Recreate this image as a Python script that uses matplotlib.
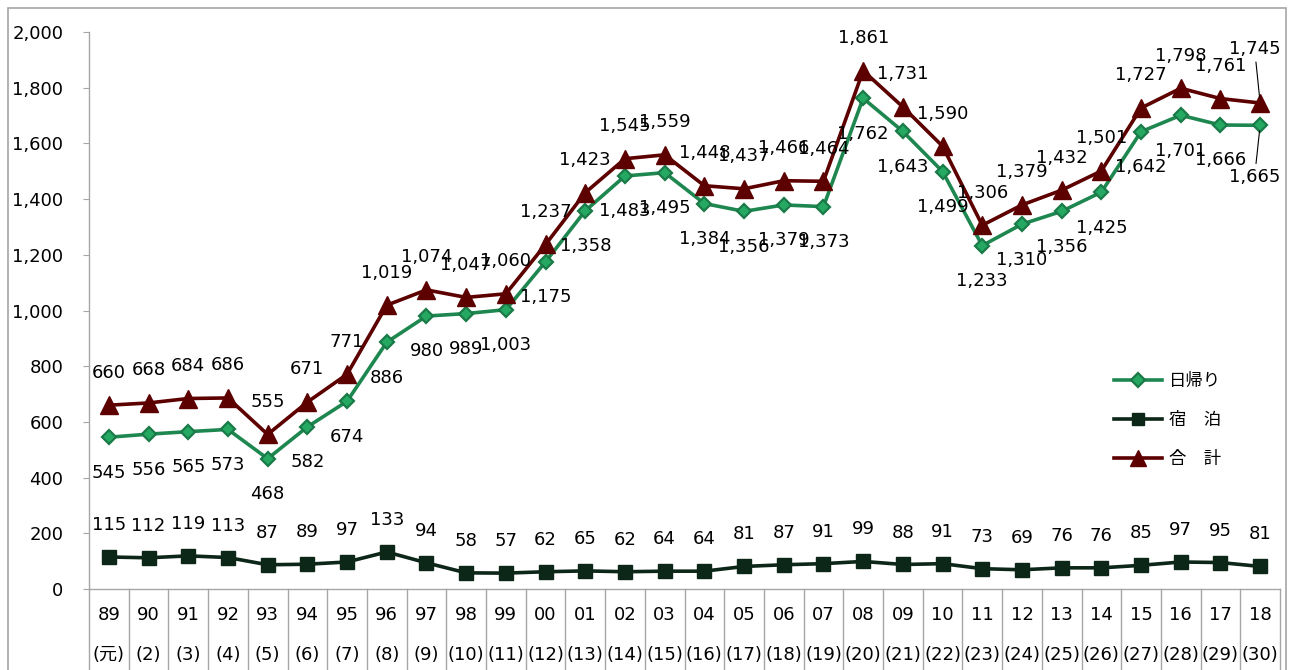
import matplotlib.pyplot as plt
from matplotlib.patches import Rectangle
from matplotlib.lines import Line2D
from matplotlib.ticker import FuncFormatter

plt.rcParams['font.family'] = ['DejaVu Sans', 'Noto Sans CJK JP']

years = ['89', '90', '91', '92', '93', '94', '95', '96', '97', '98', '99', '00',
         '01', '02', '03', '04', '05', '06', '07', '08', '09', '10', '11', '12',
         '13', '14', '15', '16', '17', '18']
eras = ['(元)', '(2)', '(3)', '(4)', '(5)', '(6)', '(7)', '(8)', '(9)', '(10)',
        '(11)', '(12)', '(13)', '(14)', '(15)', '(16)', '(17)', '(18)', '(19)',
        '(20)', '(21)', '(22)', '(23)', '(24)', '(25)', '(26)', '(27)', '(28)',
        '(29)', '(30)']

daytrip = [545, 556, 565, 573, 468, 582, 674, 886, 980, 989, 1003, 1175, 1358,
           1483, 1495, 1384, 1356, 1379, 1373, 1762, 1643, 1499, 1233, 1310,
           1356, 1425, 1642, 1701, 1666, 1665]
overnight = [115, 112, 119, 113, 87, 89, 97, 133, 94, 58, 57, 62, 65, 62, 64,
             64, 81, 87, 91, 99, 88, 91, 73, 69, 76, 76, 85, 97, 95, 81]
total = [660, 668, 684, 686, 555, 671, 771, 1019, 1074, 1047, 1060, 1237, 1423,
         1545, 1559, 1448, 1437, 1466, 1464, 1861, 1731, 1590, 1306, 1379, 1432,
         1501, 1727, 1798, 1761, 1745]

c_day = '#1e8750'
c_night = '#0c2618'
c_total = '#5c0000'
grey = '#a6a6a6'

W, H = 1290, 670
fig = plt.figure(figsize=(W / 100, H / 100), dpi=100)
ax = fig.add_axes([89 / W, 1 - 589 / H, (1280 - 89) / W, (589 - 32) / H])

x = list(range(len(years)))

ax.plot(x, daytrip, color=c_day, lw=2.6, marker='D', ms=7,
        mfc='#25a862', mec='#1a7a48', mew=1.6, zorder=3)
ax.plot(x, overnight, color=c_night, lw=2.6, marker='s', ms=10.5,
        mfc=c_night, mec=c_night, zorder=3)
ax.plot(x, total, color=c_total, lw=2.6, marker='^', ms=13,
        mfc=c_total, mec=c_total, zorder=3)

ax.set_xlim(-0.5, len(years) - 0.5)
ax.set_ylim(0, 2000)
ax.set_yticks(range(0, 2001, 200))
ax.yaxis.set_major_formatter(FuncFormatter(lambda v, p: f'{int(v):,}'))
ax.tick_params(axis='y', length=4.5, color=grey, labelsize=13, pad=14)
ax.set_xticks([])
for s in ['top', 'right']:
    ax.spines[s].set_visible(False)
for s in ['left', 'bottom']:
    ax.spines[s].set_color(grey)
    ax.spines[s].set_linewidth(1)

def label(xi, v, dy, dx=0, leader=False):
    kw = dict(textcoords='offset points', ha='center', va='center',
              fontsize=13, annotation_clip=False, zorder=5)
    if leader:
        kw['arrowprops'] = dict(arrowstyle='-', color='black', lw=0.8,
                                shrinkA=1, shrinkB=4)
    ax.annotate(f'{v:,}', (xi, v), xytext=(dx, dy), **kw)

for i in x:
    if i == len(x) - 1:
        label(i, total[i], 39, -4, leader=True)
        label(i, daytrip[i], -37, -4, leader=True)
    else:
        label(i, total[i], 23.5)
        label(i, daytrip[i], -25.5)
    label(i, overnight[i], 23)

# category table under the axis
trans = ax.get_xaxis_transform()
for b in range(len(years) + 1):
    ax.add_line(Line2D([b - 0.5, b - 0.5], [0, -0.2], transform=trans,
                       color=grey, lw=1, clip_on=False))
for i in x:
    ax.text(i, -26 / 557, years[i], transform=trans, ha='center', va='center',
            fontsize=13)
    ax.text(i, -66 / 557, eras[i], transform=trans, ha='center', va='center',
            fontsize=13)

handles = [
    Line2D([], [], color=c_day, lw=2.6, marker='D', ms=7, mfc='#25a862',
           mec='#1a7a48', mew=1.6),
    Line2D([], [], color=c_night, lw=2.6, marker='s', ms=8, mfc=c_night),
    Line2D([], [], color=c_total, lw=2.6, marker='^', ms=12, mfc=c_total),
]
ax.legend(handles, ['日帰り', '宿\u3000泊', '合\u3000計'], frameon=False,
          loc='upper left', bbox_to_anchor=(1025 / 1191, 1 - 340 / 557),
          prop={'family': 'Noto Sans CJK JP', 'size': 12.5},
          handlelength=2.75, handletextpad=0.4, labelspacing=1.2,
          borderaxespad=0, borderpad=0)

fig.add_artist(Rectangle((8 / W, -0.05), (1286 - 8) / W, 1.05 - 8 / H,
                         transform=fig.transFigure, fill=False,
                         edgecolor=grey, lw=1.2))

fig.savefig('out.png', dpi=100)
